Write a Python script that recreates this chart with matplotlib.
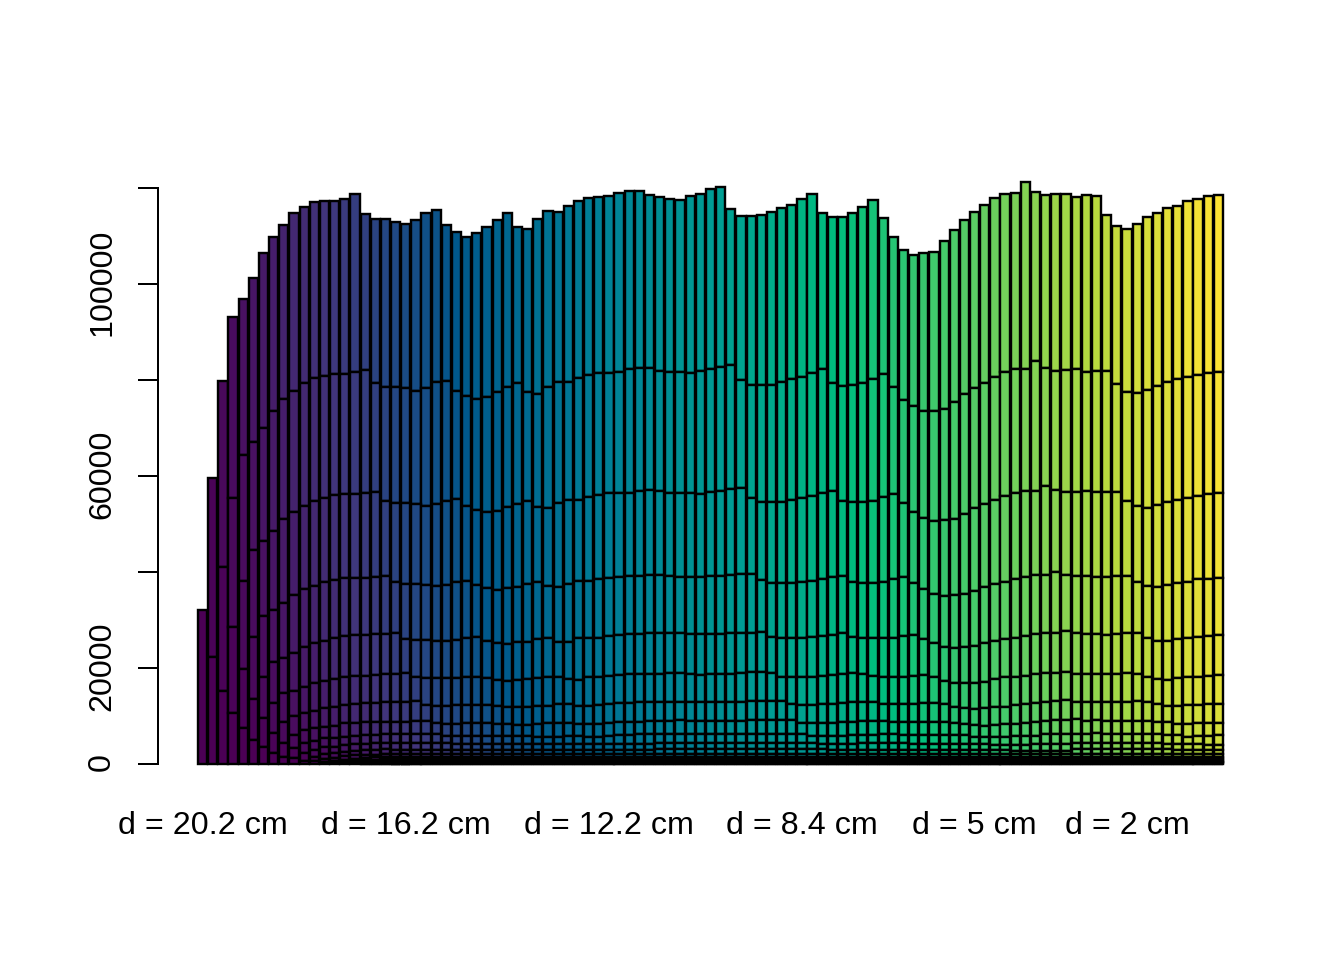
import numpy as np
import matplotlib
matplotlib.use('Agg')
import matplotlib.pyplot as plt
from matplotlib.colors import LinearSegmentedColormap
from matplotlib.transforms import ScaledTranslation

plt.rcParams['font.family'] = ['Liberation Sans', 'DejaVu Sans']

# upper edge of each stacked layer, in thousands
# edge k starts at bar k, the later bars carry more layers
edge1 = [32.1,59.6,79.8,93.1,96.9,101.3,106.5,109.8,112.3,114.8,
    116.0,117.1,117.3,117.3,117.7,118.8,114.6,113.5,113.5,112.9,
    112.5,113.3,114.8,115.4,112.3,110.8,109.8,110.6,111.9,113.3,
    114.8,111.9,111.5,113.5,115.2,115.0,116.3,117.3,117.9,118.1,
    118.3,119.0,119.4,119.4,118.5,118.1,117.7,117.5,118.3,118.8,
    119.8,120.2,115.6,114.2,114.2,114.4,115.0,115.8,116.5,117.7,
    118.8,114.8,114.0,114.0,114.8,116.0,117.5,113.8,109.8,107.1,
    106.0,106.5,106.7,109.0,111.3,113.3,115.0,116.5,117.9,118.8,
    119.0,121.3,119.2,118.5,118.8,118.8,118.1,118.5,118.3,114.4,
    112.1,111.5,112.5,114.0,114.8,115.8,116.3,117.3,117.7,118.3,118.5]
edge2 = [22.3,41.0,55.4,64.4,67.1,70.0,73.5,76.0,77.7,
    79.4,80.4,80.8,81.2,81.2,81.7,82.1,79.4,78.5,78.5,
    78.3,77.7,78.3,79.6,79.8,77.7,76.7,76.0,76.5,77.5,
    78.5,79.4,77.5,77.1,78.5,79.6,79.6,80.4,81.0,81.5,
    81.5,81.7,82.3,82.5,82.5,81.9,81.7,81.7,81.5,81.9,
    82.3,82.7,83.1,80.0,79.0,79.0,79.0,79.6,80.2,80.6,
    81.5,82.3,79.4,78.8,79.0,79.4,80.2,81.2,78.5,75.8,
    74.6,73.5,73.5,74.0,75.4,77.1,78.3,79.4,80.6,81.7,
    82.3,82.3,84.0,82.5,81.9,82.1,82.3,81.7,81.9,81.9,
    79.2,77.5,77.3,77.9,78.8,79.6,80.2,80.6,81.0,81.5,81.7]
edge3 = [15.2,28.5,38.1,44.6,46.5,48.5,51.0,52.5,
    53.7,54.8,55.4,56.0,56.2,56.2,56.5,56.7,54.8,54.4,
    54.4,54.2,53.7,54.2,54.8,55.2,53.7,52.9,52.5,52.7,
    53.5,54.2,54.8,53.5,53.3,54.4,55.0,55.0,55.6,56.0,
    56.5,56.5,56.5,56.9,57.1,56.9,56.5,56.5,56.5,56.2,
    56.7,56.9,57.3,57.5,55.4,54.6,54.6,54.6,55.0,55.4,
    55.8,56.5,56.9,54.8,54.6,54.6,54.8,55.6,56.2,54.4,
    52.5,51.2,50.6,50.8,51.0,52.1,53.3,54.2,55.0,55.8,
    56.5,56.9,56.9,57.9,57.1,56.7,56.7,56.9,56.7,56.7,
    56.7,54.8,53.7,53.3,54.0,54.6,55.0,55.4,55.8,56.2,56.5]
edge4 = [10.6,19.8,26.5,30.8,32.1,33.5,35.2,
    36.5,37.1,37.9,38.3,38.7,38.7,38.7,39.0,39.2,37.9,
    37.5,37.5,37.3,37.1,37.3,37.9,38.1,37.3,36.7,36.2,
    36.7,36.9,37.5,37.9,37.1,36.9,37.5,38.1,38.1,38.5,
    38.7,39.0,39.2,39.2,39.4,39.4,39.2,39.0,39.0,39.0,
    39.2,39.2,39.4,39.6,39.6,38.3,37.7,37.7,37.7,37.9,
    38.1,38.5,39.0,39.2,37.9,37.7,37.7,37.9,38.5,39.0,
    37.7,36.5,35.4,35.0,35.2,35.4,36.0,36.9,37.5,37.9,
    38.5,39.0,39.4,39.4,40.0,39.4,39.2,39.2,39.0,39.0,
    39.2,39.2,37.9,37.1,36.9,37.3,37.7,37.9,38.5,38.5,38.7]
edge5 = [7.5,13.5,18.1,21.2,22.1,23.1,
    24.4,25.2,25.6,26.2,26.7,26.9,26.9,27.1,27.1,27.3,
    26.0,25.8,25.8,25.6,25.6,25.8,26.2,26.5,25.6,25.2,
    25.0,25.4,25.4,26.0,26.2,25.4,25.4,26.2,26.2,26.2,
    26.7,26.9,27.1,27.1,27.3,27.3,27.3,27.3,27.1,27.1,
    27.1,27.1,27.3,27.3,27.3,27.5,26.5,26.2,26.2,26.2,
    26.5,26.7,26.9,27.3,26.5,26.2,26.2,26.2,26.2,26.7,
    26.9,26.0,25.2,24.4,24.2,24.4,24.6,25.2,25.6,26.0,
    26.2,26.7,27.1,27.3,27.3,27.7,27.3,27.1,27.1,26.9,
    27.1,27.3,27.3,26.2,25.6,25.6,26.0,26.2,26.5,26.7,26.9]
edge6 = [5.0,9.6,12.7,14.8,15.2,
    16.0,16.9,17.3,17.7,18.1,18.3,18.3,18.5,18.8,18.8,
    19.0,18.1,17.9,17.9,17.9,17.9,18.1,18.1,17.9,17.5,
    17.3,17.5,17.7,17.9,18.1,18.1,17.7,17.5,18.1,18.1,
    18.3,18.5,18.8,18.8,18.8,18.8,19.0,19.0,18.8,18.5,
    18.8,18.8,18.8,19.0,19.2,19.2,19.0,18.1,18.1,18.1,
    18.1,18.3,18.5,18.8,19.0,18.8,18.3,18.1,18.1,18.1,
    18.3,18.5,18.1,17.3,16.9,16.9,16.9,17.1,17.7,18.1,
    18.1,18.3,18.8,19.0,19.0,19.2,18.8,18.8,18.8,18.8,
    18.8,19.0,18.8,18.1,17.7,17.5,17.9,18.1,18.1,18.3,18.5]
edge7 = [3.5,6.5,8.7,10.0,
    10.6,11.0,11.7,11.9,12.3,12.5,12.7,12.7,12.9,12.9,
    12.9,13.1,12.3,12.1,12.1,12.3,12.3,12.3,12.3,12.1,
    11.9,11.9,11.9,12.1,12.1,12.5,12.5,12.1,12.1,12.3,
    12.5,12.7,12.7,12.9,12.9,12.9,12.9,12.9,12.9,12.9,
    12.9,12.9,12.9,12.9,13.1,13.1,13.1,13.1,12.5,12.3,
    12.3,12.5,12.5,12.7,12.9,12.9,12.9,12.5,12.5,12.5,
    12.5,12.7,12.7,12.5,11.9,11.7,11.5,11.7,11.9,11.9,
    12.3,12.5,12.7,12.9,13.1,13.3,12.9,12.9,12.9,12.9,
    12.9,12.9,13.1,12.9,12.5,12.1,12.1,12.3,12.3,12.5,12.5]
edge8 = [2.3,4.4,6.0,
    7.1,7.5,7.7,7.9,8.5,8.5,8.7,8.7,8.7,8.7,
    8.7,9.0,9.0,8.5,8.3,8.3,8.5,8.5,8.5,8.3,
    8.3,8.1,8.1,8.3,8.5,8.5,8.5,8.3,8.3,8.3,
    8.5,8.7,8.7,8.7,9.0,9.0,9.0,9.2,9.0,9.0,
    9.0,9.0,9.0,9.0,9.2,9.2,9.2,9.2,9.2,8.5,
    8.5,8.5,8.5,8.7,8.7,9.0,9.0,9.0,8.7,8.7,
    8.7,8.7,8.7,8.7,8.5,8.3,8.1,7.9,8.1,8.3,
    8.3,8.5,8.7,9.0,9.2,9.2,9.4,9.0,9.2,9.0,
    9.0,9.0,9.0,9.0,8.7,8.7,8.3,8.3,8.5,8.5,8.5]
edge9 = [1.5,3.3,
    4.4,4.8,5.4,5.4,5.6,5.8,6.0,6.0,6.2,6.2,
    6.2,6.2,6.2,6.2,5.8,5.8,5.8,5.8,5.8,5.8,
    5.8,5.8,5.8,5.6,5.6,5.6,5.8,5.8,5.6,5.6,
    5.8,6.0,6.0,6.2,6.2,6.2,6.2,6.2,6.2,6.2,
    6.2,6.2,6.2,6.2,6.2,6.2,6.2,6.2,6.2,6.2,
    5.8,5.8,5.8,5.8,6.0,6.0,6.0,6.2,6.2,6.0,
    6.0,6.0,6.0,6.0,6.0,6.0,5.6,5.6,5.6,5.6,
    5.8,5.8,5.8,6.2,6.2,6.2,6.2,6.2,6.4,6.2,
    6.2,6.2,6.2,6.2,6.2,6.0,6.0,5.6,5.8,5.8,6.0]
edge10 = [1.2,
    2.3,2.9,3.5,3.5,4.0,4.2,4.2,4.4,4.4,4.4,
    4.4,4.3,4.3,4.3,4.3,4.2,4.2,4.2,4.2,4.2,
    4.2,4.2,4.2,4.2,4.2,4.1,4.1,4.1,4.1,4.1,
    4.2,4.2,4.2,4.2,4.2,4.4,4.4,4.4,4.4,4.4,
    4.4,4.4,4.4,4.4,4.4,4.4,4.4,4.4,4.4,4.4,
    4.4,4.1,4.1,4.1,4.1,4.3,4.3,4.3,4.3,4.3,
    4.2,4.2,4.2,4.2,4.2,4.2,4.2,4.2,4.0,4.0,
    4.0,4.0,4.2,4.2,4.2,4.2,4.4,4.4,4.4,4.4,
    4.4,4.4,4.4,4.4,4.4,4.2,4.2,4.2,4.2,4.0,4.0]
edge11 = [0.6,1.5,2.1,2.3,2.5,2.7,2.9,2.9,3.1,3.0,
    3.0,3.0,3.0,3.0,3.0,3.0,3.0,3.0,3.0,3.0,
    2.9,2.9,2.9,2.9,2.9,2.9,2.9,2.9,2.9,2.9,
    2.9,2.9,2.9,2.9,2.9,3.1,3.1,3.1,3.1,3.1,
    3.1,3.1,3.1,3.1,3.1,3.1,3.1,3.1,3.1,3.1,
    3.1,3.1,2.9,2.9,2.9,2.9,2.9,2.9,2.9,2.9,
    3.0,3.0,3.0,3.0,3.0,3.0,3.0,3.0,3.0,3.0,
    2.8,2.8,2.8,2.8,2.8,2.8,3.1,3.1,3.1,3.1,
    3.1,3.1,3.1,3.1,3.1,3.1,2.9,2.9,2.9,2.9,2.9]

# the thin layers at the bottom barely move once they have started
tail_starts = [[0.6,1.0,1.2,1.6,1.8,1.9,1.9],
    [0.4,0.6,0.8,1.1,1.3],
    [0.2,0.4,0.6,0.8,0.9],
    [0.2,0.3,0.4,0.5,0.6],
    [0.15,0.25,0.3,0.4],
    [0.1,0.15,0.2,0.3],
    [0.08,0.12,0.18],
    [0.05,0.08,0.1],
    [0.03,0.05]]
tail_levels = [2.0,1.4,1.0,0.7,0.5,0.36,0.24,0.14,0.07]

y_ticks = [0,20000,40000,60000,80000,100000,120000]
y_labels = ['0','20000','','60000','','100000','']
x_label_bars = [1,21,41,60,77,92]
x_labels = ['d = 20.2 cm','d = 16.2 cm','d = 12.2 cm','d = 8.4 cm','d = 5 cm','d = 2 cm']
# palette of R's hcl.colors(n, "viridis")
palette = ['#4B0055','#40377C','#00588B','#007D96','#009B95','#00BE7D','#53CC67','#B5D93F','#FDE333']

n_bars = len(edge1)
edges = [edge1,edge2,edge3,edge4,edge5,edge6,edge7,edge8,edge9,edge10,edge11]
for start, level in zip(tail_starts, tail_levels):
    k = len(edges)
    edges.append(start + [level]*(n_bars - k - len(start)))

cmap = LinearSegmentedColormap.from_list('hcl_viridis', palette)
colors = cmap(np.linspace(0, 1, n_bars))

fig = plt.figure(figsize=(7, 5), dpi=192)
ax = fig.add_axes([158/1344, 1-764/960, (1224-158)/1344, (764-188)/960])

# layer k of bar i has the colour of bar i-k
for k, edge in enumerate(edges):
    x = np.arange(k+1, n_bars+1)
    top = np.array(edge)*1000
    below = np.zeros(len(x))
    if k+1 < len(edges):
        below[1:] = np.array(edges[k+1])*1000
    ax.bar(x, top-below, bottom=below, width=0.909, color=colors[:len(x)],
           edgecolor='black', linewidth=0.9, clip_on=False)

ax.set_xlim(-3.39, 101.55)
ax.set_ylim(0, 120000)
for s in ['top','right','bottom']:
    ax.spines[s].set_visible(False)
ax.spines['left'].set_bounds(0, 120000)
ax.spines['left'].set_linewidth(0.75)

ax.set_yticks(y_ticks)
ax.set_yticklabels(y_labels, rotation=90, va='center', fontsize=12.1)
ax.tick_params(axis='y', length=7.5, width=0.75, pad=7.8)
for lab in ax.get_yticklabels():
    lab.set_transform(lab.get_transform() + ScaledTranslation(0, 2/192, fig.dpi_scale_trans))
ax.set_xticks(x_label_bars)
ax.set_xticklabels(x_labels, fontsize=12.1)
ax.tick_params(axis='x', length=0, pad=17.5)

fig.savefig('out.png', dpi=192)
